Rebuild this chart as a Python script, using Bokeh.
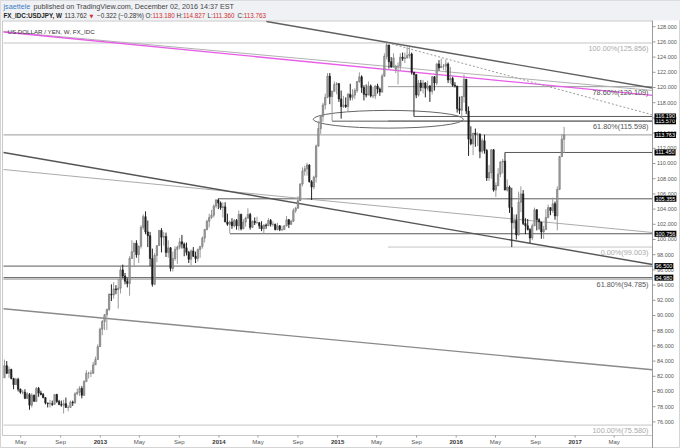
import numpy as np
import pandas as pd
from bokeh.plotting import figure
from bokeh.models import Range1d, Label
from bokeh.core.properties import value
from bokeh.embed import file_html
from bokeh.resources import INLINE

# ---------------- data (weekly USDJPY, FX_IDC) ----------------
first_week = "2012-03-12"

o_2012 = [81.8,83.4,82.4,82.9,81.7,80.9,81.6,80.3,79.9,79.9,79.1,79.6,78.2,79.5,78.7,80.4,79.8,79.6,79.2,78.5,78.4,78.4,78.3,79.6,78.7,78.3,78.2,78.4,77.9,77.9,78.6,78.5,79.7,79.9,80.4,79.5,81.3,82.4,82.4,82.4,83.5,84.2,85.9]
h_2012 = [84.2,84.0,83.3,83.0,81.8,81.8,81.8,80.4,80.2,80.3,79.9,79.8,79.8,79.6,80.6,80.6,80.1,79.8,79.2,78.5,78.9,78.8,79.6,79.7,78.9,78.8,78.9,79.2,78.2,78.8,78.8,79.9,80.4,80.7,80.7,81.5,82.8,82.6,82.8,83.9,84.6,86.2,88.4]
l_2012 = [81.8,82.3,81.8,81.6,80.3,80.9,80.0,79.7,79.6,79.0,79.0,77.6,77.9,78.7,78.6,79.3,79.5,79.1,78.3,77.9,77.9,78.1,78.3,78.5,78.2,78.0,77.1,77.9,77.4,77.9,78.1,78.4,79.5,79.4,79.1,79.4,81.3,81.7,81.9,82.3,83.5,84.2,85.9]
c_2012 = [83.4,82.4,82.9,81.7,80.9,81.6,80.3,79.9,79.9,79.1,79.7,78.2,79.5,78.7,80.4,79.8,79.6,79.2,78.5,78.4,78.4,78.3,79.6,78.7,78.3,78.2,78.4,77.9,77.9,78.6,78.5,79.7,79.9,80.4,79.5,81.3,82.4,82.4,82.4,83.5,84.2,85.9,88.2]

o_2013 = [88.2,89.2,90.1,90.8,92.8,92.7,93.5,93.4,93.6,96.0,95.2,94.5,94.2,97.5,98.4,99.5,98.0,99.1,101.6,103.0,101.0,100.5,97.5,94.1,97.9,99.2,101.2,100.3,100.4,98.3,98.9,96.2,97.5,98.7,99.0,99.7,99.4,98.9,98.3,97.4,98.5,97.8,97.5,98.7,99.1,100.2,101.3,102.4,102.9,103.2,104.4,105.2]
h_2013 = [89.4,90.2,90.9,92.9,94.1,94.4,94.0,94.8,96.6,96.7,95.6,94.9,97.8,99.9,99.6,99.9,99.2,101.9,103.3,103.7,102.5,101.0,98.8,98.2,99.2,101.2,101.5,101.0,100.9,99.9,99.0,98.4,99.1,99.2,100.2,100.6,99.6,99.6,98.5,98.7,99.0,98.4,98.8,99.1,100.4,101.4,102.6,103.4,103.9,104.6,105.3,105.4]
l_2013 = [87.4,88.1,88.1,90.6,91.9,92.2,92.8,90.9,92.9,94.9,94.1,93.7,92.6,97.5,96.5,97.6,96.9,98.8,101.3,100.7,99.0,96.5,93.8,94.0,97.0,99.2,98.3,99.2,97.7,97.6,95.8,95.8,97.2,96.8,98.7,98.8,97.8,97.9,96.9,96.6,97.7,96.9,97.1,97.6,98.8,99.6,101.2,101.6,102.7,102.9,104.1,104.0]
c_2013 = [89.2,90.1,90.8,92.8,92.7,93.5,93.4,93.6,96.0,95.2,94.5,94.2,97.5,98.4,99.5,98.0,99.1,101.6,103.0,101.0,100.5,97.5,94.1,97.9,99.2,101.2,100.3,100.4,98.3,98.9,96.2,97.5,98.7,99.0,99.7,99.4,98.9,98.3,97.4,98.5,97.8,97.5,98.7,99.1,100.2,101.3,102.4,102.9,103.2,104.4,105.2,104.8]

o_2014 = [104.8,104.2,104.3,102.3,102.0,102.3,101.8,102.5,101.8,103.3,101.4,102.3,102.8,103.3,101.6,102.4,102.2,102.2,101.8,101.4,101.9,101.8,102.5,102.0,102.0,101.3,101.8,101.3,101.3,101.8,102.6,102.0,102.4,103.8,104.1,105.1,107.3,109.0,109.3,109.8,107.6,106.9,108.2,112.3,114.6,116.2,117.7,118.7,121.5,118.8,119.5,120.4]
h_2014 = [105.0,104.9,104.9,103.4,102.5,102.8,102.7,102.7,103.8,103.4,102.7,103.0,104.1,103.5,102.5,102.9,103.0,102.3,102.4,102.0,102.1,102.8,102.7,102.4,102.1,102.2,101.9,101.8,101.9,103.1,102.7,102.6,104.1,104.3,105.7,107.4,109.5,109.7,110.1,109.9,107.8,108.4,112.5,115.6,116.4,118.0,119.2,121.9,121.9,119.6,120.8,120.7]
l_2014 = [103.9,102.9,102.3,101.8,100.8,101.4,101.6,101.3,101.2,101.2,101.4,101.7,102.8,101.3,101.5,101.9,102.1,101.4,101.1,100.8,101.4,101.8,101.7,101.7,101.2,101.2,101.1,101.1,101.3,101.7,101.5,101.9,102.3,103.5,104.1,105.1,107.0,108.4,108.4,107.5,105.2,106.6,107.5,112.2,113.9,115.5,117.1,118.6,117.8,115.6,119.4,119.1]
c_2014 = [104.2,104.3,102.3,102.0,102.3,101.8,102.5,101.8,103.3,101.4,102.3,102.8,103.3,101.6,102.4,102.2,102.2,101.8,101.4,101.9,101.8,102.5,102.0,102.0,101.3,101.8,101.3,101.3,101.8,102.6,102.0,102.4,103.8,104.1,105.1,107.3,109.0,109.3,109.8,107.6,106.9,108.2,112.3,114.6,116.2,117.7,118.7,121.5,118.8,119.5,120.4,120.5]

o_2015 = [120.5,118.5,117.5,117.7,117.5,119.1,118.7,119.0,119.6,120.8,121.4,120.0,119.1,119.0,120.2,118.9,118.9,120.2,119.8,119.4,121.5,124.1,125.6,123.4,122.7,122.4,122.8,122.8,124.0,123.8,123.9,124.2,124.4,122.0,121.7,119.0,120.6,120.0,120.6,119.9,120.2,119.5,121.4,120.6,123.1,122.6,122.8,122.8,123.1,121.0,121.2,120.3]
h_2015 = [120.6,119.6,118.9,118.7,119.3,120.5,119.8,119.9,120.8,122.0,121.6,120.3,120.4,120.8,120.4,120.1,120.3,120.5,120.0,121.8,124.5,125.9,125.6,124.0,124.5,123.0,123.3,124.5,124.6,124.6,125.3,125.3,124.6,122.0,121.7,121.0,121.0,121.0,120.7,120.9,120.3,121.5,121.5,123.2,123.6,123.8,123.1,123.7,123.3,122.7,121.4,120.7]
l_2015 = [118.1,115.9,117.3,117.3,116.9,118.3,118.3,118.5,119.3,120.6,119.3,118.3,118.7,119.0,118.7,118.6,118.5,119.2,118.9,119.3,121.4,123.7,122.5,122.6,122.6,121.9,120.4,122.3,123.5,123.2,123.8,123.8,121.7,116.2,118.6,118.8,119.5,119.2,118.7,119.6,118.1,119.1,119.6,120.3,122.2,122.6,122.3,122.0,120.6,120.5,120.1,120.0]
c_2015 = [118.5,117.5,117.7,117.5,119.1,118.7,119.0,119.6,120.8,121.4,120.0,119.1,119.0,120.2,118.9,118.9,120.2,119.8,119.4,121.5,124.1,125.6,123.4,122.7,123.9,122.8,122.8,124.0,123.8,123.9,124.2,124.4,122.0,121.7,119.0,120.6,120.0,120.6,119.9,120.2,119.5,121.4,120.6,123.1,122.6,122.8,122.8,123.1,121.0,121.2,120.3,120.2]

o_2016 = [120.2,117.2,117.0,118.8,121.1,116.9,113.2,112.6,114.0,113.8,113.8,111.6,113.0,111.7,108.1,108.8,111.8,106.5,107.1,108.6,110.2,110.3,106.5,106.9,104.2,102.2,102.5,100.6,104.9,106.0,102.1,101.8,101.3,100.2,101.8,103.9,102.6,102.3,101.0,101.3,102.9,104.2,103.8,104.7,103.1,106.6,110.9,113.18]
h_2016 = [120.2,118.8,118.9,121.7,121.1,117.5,114.9,114.0,114.6,114.1,114.0,113.3,113.8,111.9,109.8,111.9,111.9,107.5,109.4,110.3,110.6,111.45,107.9,107.1,106.8,103.3,103.3,106.3,107.0,106.5,102.8,102.7,101.5,102.1,104.2,104.0,102.8,102.3,101.8,104.0,104.6,104.2,105.5,105.0,107.0,111.0,113.9,114.827]
l_2016 = [116.7,116.5,116.0,118.0,116.5,111.0,112.4,111.1,112.2,112.3,110.7,111.3,111.3,107.7,107.7,108.0,106.3,105.6,107.0,108.2,108.7,106.5,106.3,103.5,99.0,101.4,100.0,100.5,103.6,101.9,100.7,101.2,99.55,99.9,101.8,101.2,101.3,100.1,100.1,101.3,102.8,103.2,103.5,102.6,101.2,106.5,110.9,111.360]
c_2016 = [117.2,117.0,118.8,121.1,116.9,113.2,112.6,114.0,113.8,113.8,111.6,113.0,111.7,108.1,108.8,111.8,106.5,107.1,108.6,110.2,110.3,106.5,106.9,104.2,102.2,102.5,100.6,104.9,106.0,102.1,101.8,101.3,100.2,101.8,103.9,102.6,102.3,101.0,101.3,102.9,104.2,103.8,104.7,103.1,106.6,110.9,113.2,113.763]

opens = o_2012 + o_2013 + o_2014 + o_2015 + o_2016
highs = h_2012 + h_2013 + h_2014 + h_2015 + h_2016
lows = l_2012 + l_2013 + l_2014 + l_2015 + l_2016
closes = c_2012 + c_2013 + c_2014 + c_2015 + c_2016

# drawn trendlines: (date, price) anchors
top_trend = [("2014-05-27", 128.68), ("2017-08-27", 119.93)]
magenta_line = [("2012-03-09", 127.30), ("2017-08-27", 118.95)]
gray_upper_line = [("2012-03-09", 127.37), ("2017-08-27", 119.61)]
dotted_line = [("2015-06-05", 125.86), ("2017-08-27", 116.40)]
lower_trend = [("2012-03-09", 111.45), ("2017-08-27", 96.71)]
lower_gray_line = [("2012-03-09", 109.21), ("2017-08-27", 100.92)]
long_low_line = [("2012-03-09", 90.88), ("2017-08-27", 82.86)]

# horizontal levels: (price, start date)
dark_levels = [(115.570, "2014-12-15"), (116.190, "2015-08-24"), (111.450, "2016-05-30"),
               (105.355, "2013-12-30"), (100.756, "2014-02-04"), (96.500, "2012-03-09"),
               (94.980, "2012-03-09")]
mid_levels = [(113.763, "2012-03-09"), (94.785, "2012-03-09"),
              (120.109, "2015-06-05"), (115.598, "2015-06-05")]
light_levels = [(125.856, "2012-03-09"), (99.003, "2015-06-05"), (75.580, "2012-03-09")]

fib_texts = [("100.00%(125.856)", 125.856, "#aaaaaa"), ("78.60%(120.109)", 120.109, "#555555"),
             ("61.80%(115.598)", 115.598, "#555555"), ("0.00%(99.003)", 99.003, "#aaaaaa"),
             ("61.80%(94.785)", 94.785, "#555555"), ("100.00%(75.580)", 75.580, "#aaaaaa")]

ellipse_center = ("2015-06-06", 115.82)
ellipse_days = 462
ellipse_height = 2.33

price_ticks = list(range(76, 130, 2))
boxed_prices = [115.570, 116.190, 113.763, 111.450, 105.355, 100.756, 96.500, 94.980]
month_ticks = [("2012-05-01", "May"), ("2012-09-01", "Sep"), ("2013-05-01", "May"), ("2013-09-01", "Sep"),
               ("2014-05-01", "May"), ("2014-09-01", "Sep"), ("2015-05-01", "May"), ("2015-09-01", "Sep"),
               ("2016-05-01", "May"), ("2016-09-01", "Sep"), ("2017-05-01", "May")]
year_ticks = [("2013-01-01", "2013"), ("2014-01-01", "2014"), ("2015-01-01", "2015"),
              ("2016-01-01", "2016"), ("2017-01-01", "2017")]

# header texts: (left px, text, colour, style)
header_line1 = [(3, "jsaettele", "#3a7fc3", "normal"),
                (33, "published on TradingView.com, December 02, 2016 14:37 EST", "#444444", "normal")]
header_line2 = [(3, "FX_IDC:USDJPY, W", "#222222", "bold"), (64, "113.762", "#333333", "normal"),
                (89, "\u25bc", "#d03030", "normal"), (96.5, "\u22120.322 (\u22120.28%)", "#333333", "normal"),
                (145, "O:", "#333333", "normal"), (152, "113.180", "#d03030", "normal"),
                (176, "H:", "#333333", "normal"), (182.5, "114.827", "#d03030", "normal"),
                (207, "L:", "#333333", "normal"), (212.3, "111.360", "#d03030", "normal"),
                (237, "C:", "#333333", "normal"), (243.2, "113.763", "#d03030", "normal")]

# visible chart area (data) and its pixel box inside the 680x448 canvas
x_start, x_end = "2012-03-09", "2017-08-27"
y_start, y_end = 74.21, 128.684
W, H = 680, 448
AREA_L, AREA_R, AREA_T, AREA_B = 3, 652, 21, 435


def ms(d):
    return pd.Timestamp(d).value / 1e6


DAY = 86400000.0
FONT = "Liberation Sans"

xa, xb = ms(x_start), ms(x_end)
ms_per_px = (xb - xa) / (AREA_R - AREA_L)
pr_per_px = (y_end - y_start) / (AREA_B - AREA_T)


def dx(px):
    return px * ms_per_px


def dy(px):
    return px * pr_per_px


X0 = xa - dx(AREA_L)
X1 = xb + dx(W - AREA_R)
Y0 = y_start - dy(H - AREA_B)
Y1 = y_end + dy(AREA_T)

dates = pd.date_range(first_week, periods=len(closes), freq="7D")
xs = np.array([ms(d) for d in dates])
o = np.array(opens); h = np.array(highs); l = np.array(lows); c = np.array(closes)
up = c >= o
dn = ~up

p = figure(width=W, height=H, output_backend="svg", toolbar_location=None,
           x_range=Range1d(X0, X1), y_range=Range1d(Y0, Y1),
           x_axis_location=None, y_axis_location=None, title=None,
           min_border=0)
p.grid.visible = False
p.outline_line_color = "#d4d4d4"
p.background_fill_color = "white"
p.border_fill_color = "white"

# header band and chart area border
p.quad(left=X0, right=X1, bottom=y_end + dy(1), top=Y1, fill_color="#eff1f4", line_alpha=0)
p.quad(left=xa - dx(1), right=xb, bottom=y_start, top=y_end + dy(0.5), fill_alpha=0,
       line_color="#c8c8c8", line_width=1)


def seg_line(pts, **kw):
    p.line([ms(d) for d, _ in pts], [v for _, v in pts], **kw)


# horizontal levels
for lv, d in light_levels:
    p.segment(ms(d), lv, xb, lv, line_color="#c4c4c4", line_width=1)
for lv, d in mid_levels:
    p.segment(ms(d), lv, xb, lv, line_color="#9a9a9a", line_width=1)
for lv, d in dark_levels:
    p.segment(ms(d), lv, xb, lv, line_color="#5a5a5a", line_width=1)

# trendlines
seg_line(gray_upper_line, line_color="#b0b0b0", line_width=1)
seg_line(magenta_line, line_color="#e85ce8", line_width=1.3)
seg_line(top_trend, line_color="#606060", line_width=1.4)
seg_line(dotted_line, line_color="#9a9a9a", line_width=1, line_dash="2 2")
seg_line(lower_gray_line, line_color="#ababab", line_width=1)
seg_line(lower_trend, line_color="#555555", line_width=1.4)
seg_line(long_low_line, line_color="#8a8a8a", line_width=1.4)

p.ellipse(x=[ms(ellipse_center[0])], y=[ellipse_center[1]], width=[ellipse_days * DAY],
          height=[ellipse_height], fill_alpha=0, line_color="#666666", line_width=1)

# candles
up_data = dict(x=xs[up], h=h[up], l=l[up], top=np.maximum(o, c)[up], bot=np.minimum(o, c)[up])
dn_data = dict(x=xs[dn], h=h[dn], l=l[dn], top=np.maximum(o, c)[dn], bot=np.minimum(o, c)[dn])
p.segment(x0="x", y0="h", x1="x", y1="l", source=up_data, line_color="#9a9a9a", line_width=1)
p.segment(x0="x", y0="h", x1="x", y1="l", source=dn_data, line_color="#222222", line_width=1)
p.vbar(x="x", width=4.3 * DAY, top="top", bottom="bot", source=up_data,
       fill_color="#a8a8a8", line_color="#6e6e6e", line_width=0.6)
p.vbar(x="x", width=4.3 * DAY, top="top", bottom="bot", source=dn_data,
       fill_color="#1e1e1e", line_color="#1e1e1e", line_width=0.6)

# fib texts
for t, lv, col in fib_texts:
    p.add_layout(Label(x=xb - dx(4), y=lv, text=t, text_font=FONT,
                       text_font_size="7.3px", text_color=col, text_align="right",
                       text_baseline="top", y_offset=-1))

# ---- price scale (right) ----
p.segment(x0=xb, y0=Y0, x1=xb, y1=y_end + dy(1), line_color="#9a9a9a", line_width=1)
p.segment(x0=[xb] * len(price_ticks), y0=price_ticks, x1=[xb + dx(3)] * len(price_ticks),
          y1=price_ticks, line_color="#9a9a9a", line_width=1)
p.text(x=[xb + dx(4.5)] * len(price_ticks), y=price_ticks,
       text=["%.3f" % t for t in price_ticks], text_font=value(FONT),
       text_font_size=value("5.5px"), text_color="#555555", text_baseline="middle",
       text_align="left")
for lv in boxed_prices:
    p.add_layout(Label(x=xb + dx(2), y=lv, text="%.3f" % lv, text_font=FONT,
                       text_font_size="5.5px", text_color="white", text_align="left",
                       text_baseline="middle", background_fill_color="black", padding=1))

# ---- time scale (bottom) ----
tick_x = [ms(d) for d, _ in month_ticks] + [ms(d) for d, _ in year_ticks]
p.segment(x0=tick_x, y0=[y_start] * len(tick_x), x1=tick_x, y1=[y_start - dy(2)] * len(tick_x),
          line_color="#9a9a9a", line_width=1)
p.text(x=[ms(d) for d, _ in month_ticks], y=[y_start - dy(6)] * len(month_ticks),
       text=[t for _, t in month_ticks], text_font=value(FONT), text_font_size=value("6px"),
       text_color="#555555", text_align="center", text_baseline="middle")
p.text(x=[ms(d) for d, _ in year_ticks], y=[y_start - dy(6)] * len(year_ticks),
       text=[t for _, t in year_ticks], text_font=value(FONT), text_font_size=value("6px"),
       text_font_style="bold", text_color="#333333", text_align="center", text_baseline="middle")

# chart title inside the area
p.add_layout(Label(x=7, y=H - 31, x_units="screen", y_units="screen",
                   text="US DOLLAR / YEN, W, FX_IDC", text_font=FONT, text_font_size="6.2px",
                   text_color="#333333", text_baseline="middle"))

# header lines
for xx, t, col, st in header_line1:
    p.add_layout(Label(x=xx, y=H - 5.7, x_units="screen", y_units="screen", text=t,
                       text_font=FONT, text_font_size="7.2px", text_color=col,
                       text_font_style=st, text_baseline="middle"))
for xx, t, col, st in header_line2:
    p.add_layout(Label(x=xx, y=H - 15.3, x_units="screen", y_units="screen", text=t,
                       text_font=("DejaVu Sans" if t == "\u25bc" else FONT),
                       text_font_size=("5px" if t == "\u25bc" else "6.3px"), text_color=col,
                       text_font_style=st, text_baseline="middle"))

open("out.html", "w").write(file_html(p, INLINE))
